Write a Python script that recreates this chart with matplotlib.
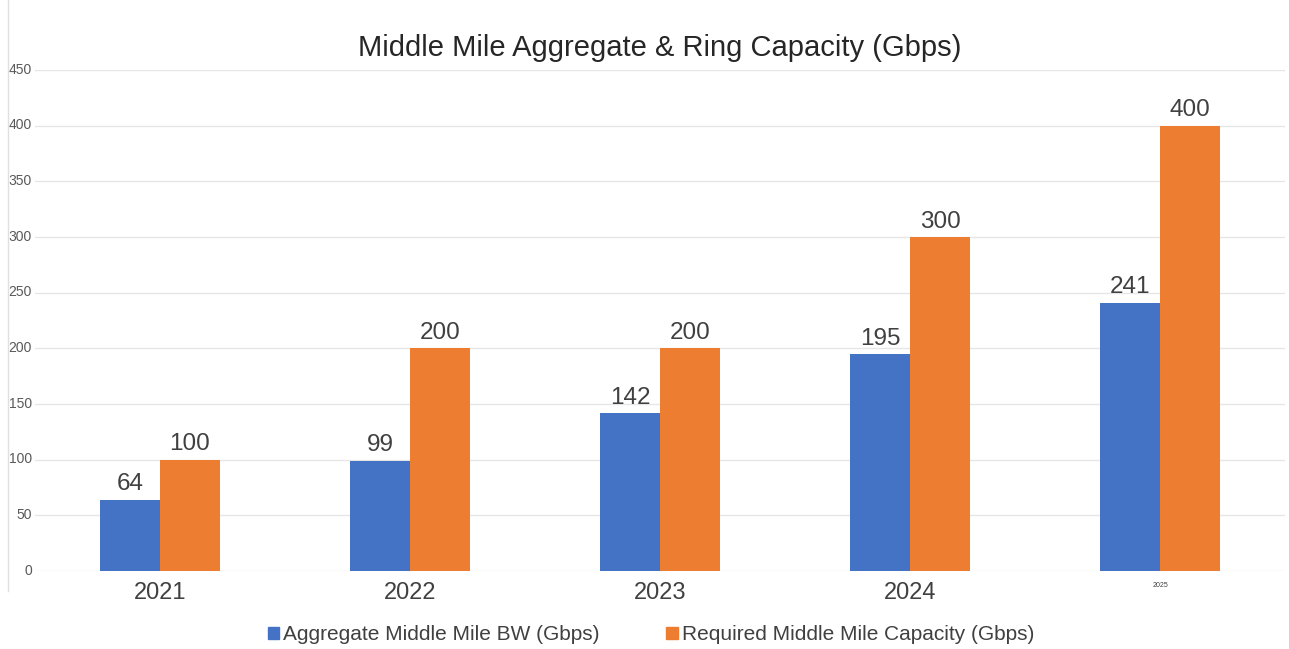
import numpy as np
import matplotlib.pyplot as plt
import matplotlib.transforms as mtransforms
from matplotlib.patches import Patch

plt.rcParams['font.family'] = ['Liberation Sans', 'DejaVu Sans']

# datos
years = ['2021', '2022', '2023', '2024', '2025']
aggregate = [64, 99, 142, 195, 241]
required = [100, 200, 200, 300, 400]

azul = '#4472C4'
naranja = '#ED7D31'

fig = plt.figure(figsize=(12.89, 6.49), dpi=100)
ax = fig.add_axes([0.027, 0.12, 0.97, 0.772])

x = np.arange(len(years))
w = 0.24
b1 = ax.bar(x - w/2, aggregate, w, color=azul, zorder=3)
b2 = ax.bar(x + w/2, required, w, color=naranja, zorder=3)

for barras in (b1, b2):
    for r in barras:
        ax.text(r.get_x() + r.get_width()/2, r.get_height() + 4, str(int(r.get_height())),
                ha='center', va='bottom', fontsize=17.5, color='#404040')

ax.set_xlim(-0.5, 4.5)
ax.set_ylim(0, 450)
ax.set_yticks(range(0, 451, 50))
ax.grid(axis='y', color='#e6e6e6', linewidth=1, zorder=0)
for s in ax.spines.values():
    s.set_visible(False)
ax.tick_params(axis='y', length=0, labelsize=10, labelcolor='#595959', pad=2)
ax.tick_params(axis='x', length=0, labelsize=17, labelcolor='#404040', pad=8)
ax.set_xticks(x)
ax.set_xticklabels(years)
ax.get_xticklabels()[-1].set_fontsize(5)
# subir un poco las etiquetas del eje y
desplaza = mtransforms.ScaledTranslation(0, 1.5/72, fig.dpi_scale_trans)
for t in ax.get_yticklabels():
    t.set_transform(t.get_transform() + desplaza)

ax.set_title('Middle Mile Aggregate & Ring Capacity (Gbps)', fontsize=21, color='#262626', pad=10)

handles = [Patch(color=azul), Patch(color=naranja)]
fig.legend(handles, ['Aggregate Middle Mile BW (Gbps)', 'Required Middle Mile Capacity (Gbps)'],
           loc='center', bbox_to_anchor=(0.505, 0.022), ncol=2, frameon=False, fontsize=15,
           handlelength=0.55, handleheight=0.55, handletextpad=0.2, columnspacing=3.2,
           labelcolor='#404040')

# linea gris de la izquierda
fig.add_artist(plt.Line2D([0.006, 0.006], [0.09, 1.0], color='#e0e0e0', linewidth=1))

plt.savefig('out.png', dpi=100)
